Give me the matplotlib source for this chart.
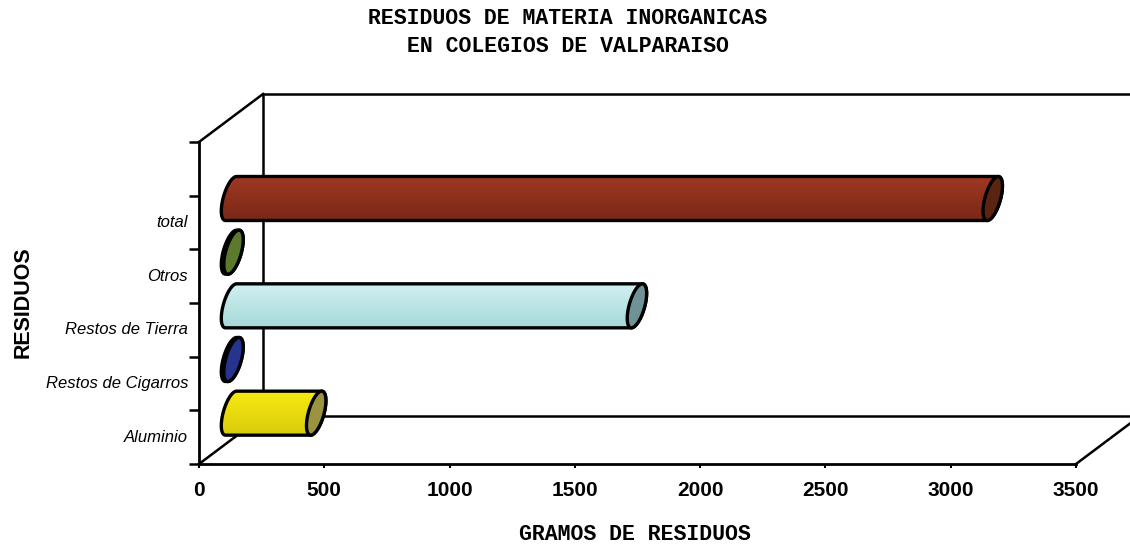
import matplotlib
matplotlib.use('Agg')
import matplotlib.pyplot as plt
import numpy as np
from matplotlib.patches import Polygon

categorias = ['Aluminio', 'Restos de Cigarros', 'Restos de Tierra', 'Otros', 'total']
valores = [340, 10, 1620, 10, 3040]
color_arriba = ['#f7ea10', '#26348e', '#d0f0f0', '#5b7a2d', '#a03822']
color_abajo = ['#d8cc0c', '#1f2a7c', '#a6d8d8', '#4f6c28', '#7a2816']
color_tapa = ['#9a9440', '#26348e', '#6f9296', '#5b7a2d', '#5a2410']
xticks = [0, 500, 1000, 1500, 2000, 2500, 3000, 3500]

px_x = 877 / 3500
px_y = 322 / 6
fondo_x = 64 / px_x
fondo_y = 48 / px_y


def tapa(cx, cy, t):
    # elipse torcida de la punta del cilindro
    x = cx + (5.5 * np.sin(t) + 8 * np.cos(t)) / px_x
    y = cy + 22 * np.sin(t) / px_y
    return np.column_stack([x, y])


fig = plt.figure(figsize=(11.3, 5.51), dpi=100)
ax = fig.add_axes([199 / 1130, 87 / 551, 877 / 1130, 322 / 551])
ax.set_facecolor('none')

for s in ['top', 'right']:
    ax.spines[s].set_visible(False)
for s in ['left', 'bottom']:
    ax.spines[s].set_linewidth(2)

# paredes del fondo
pared = dict(color='black', lw=1.8, clip_on=False, zorder=1)
ax.plot([fondo_x, fondo_x], [fondo_y, 6 + fondo_y], **pared)
ax.plot([fondo_x, 3500 + fondo_x], [6 + fondo_y, 6 + fondo_y], **pared)
ax.plot([fondo_x, 3500 + fondo_x], [fondo_y, fondo_y], **pared)
ax.plot([0, fondo_x], [0, fondo_y], **pared)
ax.plot([0, fondo_x], [6, 6 + fondo_y], **pared)
ax.plot([3500, 3500 + fondo_x], [0, fondo_y], **pared)

for i, valor in enumerate(valores):
    x0 = fondo_x / 2
    x1 = x0 + valor
    cy = i + 0.5 + fondo_y / 2
    izq = tapa(x0, cy, np.linspace(np.pi / 2, 3 * np.pi / 2, 40))
    der = tapa(x1, cy, np.linspace(-np.pi / 2, np.pi / 2, 40))
    cuerpo = Polygon(np.vstack([izq, der]), closed=True, fc='none', ec='none',
                     clip_on=False)
    ax.add_patch(cuerpo)

    c0 = np.array(matplotlib.colors.to_rgb(color_arriba[i]))
    c1 = np.array(matplotlib.colors.to_rgb(color_abajo[i]))
    f = np.linspace(0, 1, 64)[:, None]
    degradado = (c0 * (1 - f) + c1 * f)[:, None, :]
    im = ax.imshow(degradado, aspect='auto', zorder=2, interpolation='bilinear',
                   extent=[x0 - 14 / px_x, x1 + 14 / px_x,
                           cy - 22 / px_y, cy + 22 / px_y])
    im.set_clip_path(cuerpo)

    ax.add_patch(Polygon(np.vstack([izq, der]), closed=True, fc='none', ec='black',
                         lw=2.4, clip_on=False, zorder=3))
    punta = tapa(x1, cy, np.linspace(0, 2 * np.pi, 80))
    ax.add_patch(Polygon(punta, closed=True, fc=color_tapa[i], ec='black',
                         lw=2.4, clip_on=False, zorder=4))

ax.set_xlim(0, 3500)
ax.set_ylim(0, 6)
ax.set_xticks(xticks)
ax.set_xticklabels(xticks, fontsize=15, fontweight='bold',
                   family='Liberation Sans')
ax.set_yticks(range(0, 7))
ax.set_yticklabels([])
ax.tick_params(axis='y', length=7, width=1.8)
ax.tick_params(axis='x', length=3, width=1.5, pad=9)

for i, nombre in enumerate(categorias):
    ax.text(-11 / px_x, i + 0.5, nombre, ha='right', va='center', fontsize=12,
            style='italic', family='Liberation Sans', clip_on=False)

fig.text(568 / 1130, 1 - 19 / 551, 'RESIDUOS DE MATERIA INORGANICAS', ha='center',
         va='center', fontsize=15.5, fontweight='bold', family='Liberation Mono')
fig.text(568 / 1130, 1 - 46 / 551, 'EN COLEGIOS DE VALPARAISO', ha='center',
         va='center', fontsize=15.5, fontweight='bold', family='Liberation Mono')
fig.text(635 / 1130, 1 - 535 / 551, 'GRAMOS DE RESIDUOS', ha='center', va='center',
         fontsize=15.5, fontweight='bold', family='Liberation Mono')
fig.text(23 / 1130, 1 - 302 / 551, 'RESIDUOS', ha='center', va='center',
         rotation=90, fontsize=15.5, fontweight='bold', family='Liberation Sans')

plt.savefig('out.png', dpi=100)
